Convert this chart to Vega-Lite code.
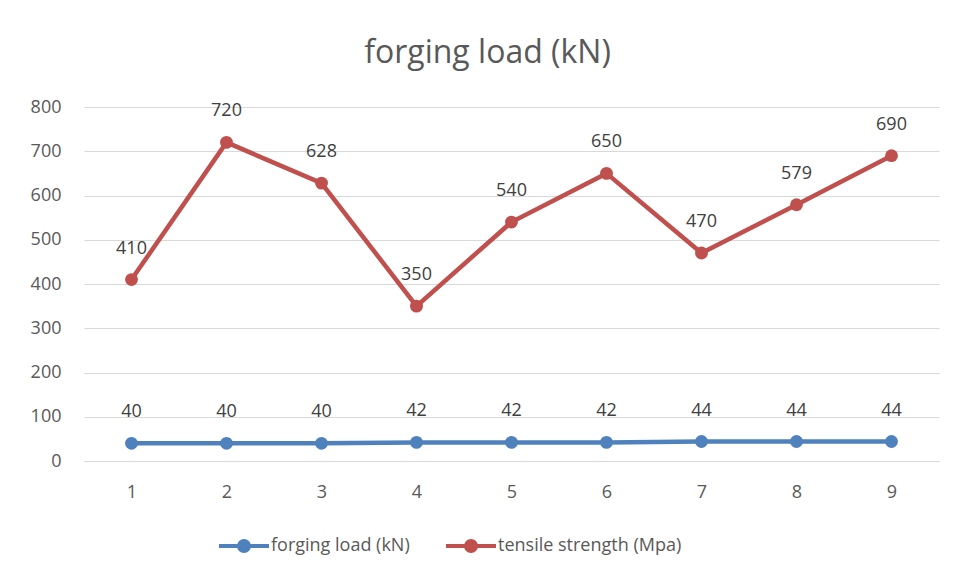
{
  "$schema": "https://vega.github.io/schema/vega-lite/v6.json",
  "width": 855,
  "height": 354,
  "autosize": {"type": "none"},
  "padding": {"left": 84, "top": 107, "right": 17, "bottom": 118},
  "background": "white",
  "title": {
    "text": "forging load (kN)",
    "fontSize": 32,
    "font": "Open Sans",
    "fontWeight": "normal",
    "color": "#595959",
    "offset": 28,
    "dx": -24
  },
  "data": {
    "values": [
      {"x": "1", "series": "forging load (kN)", "value": 40},
      {"x": "2", "series": "forging load (kN)", "value": 40},
      {"x": "3", "series": "forging load (kN)", "value": 40},
      {"x": "4", "series": "forging load (kN)", "value": 42},
      {"x": "5", "series": "forging load (kN)", "value": 42},
      {"x": "6", "series": "forging load (kN)", "value": 42},
      {"x": "7", "series": "forging load (kN)", "value": 44},
      {"x": "8", "series": "forging load (kN)", "value": 44},
      {"x": "9", "series": "forging load (kN)", "value": 44},
      {"x": "1", "series": "tensile strength (Mpa)", "value": 410},
      {"x": "2", "series": "tensile strength (Mpa)", "value": 720},
      {"x": "3", "series": "tensile strength (Mpa)", "value": 628},
      {"x": "4", "series": "tensile strength (Mpa)", "value": 350},
      {"x": "5", "series": "tensile strength (Mpa)", "value": 540},
      {"x": "6", "series": "tensile strength (Mpa)", "value": 650},
      {"x": "7", "series": "tensile strength (Mpa)", "value": 470},
      {"x": "8", "series": "tensile strength (Mpa)", "value": 579},
      {"x": "9", "series": "tensile strength (Mpa)", "value": 690}
    ]
  },
  "encoding": {
    "x": {
      "field": "x",
      "type": "ordinal",
      "sort": null,
      "scale": {"type": "point", "padding": 0.5},
      "axis": {
        "title": null,
        "labelAngle": 0,
        "labelFont": "Open Sans",
        "labelFontSize": 18,
        "labelColor": "#595959",
        "labelPadding": 22,
        "ticks": false,
        "domain": false,
        "grid": false
      }
    },
    "y": {
      "field": "value",
      "type": "quantitative",
      "scale": {"domain": [0, 800], "nice": false},
      "axis": {
        "title": null,
        "values": [0, 100, 200, 300, 400, 500, 600, 700, 800],
        "labelFont": "Open Sans",
        "labelFontSize": 18,
        "labelColor": "#595959",
        "labelPadding": 23,
        "ticks": false,
        "domain": false,
        "grid": true,
        "gridColor": "#d9d9d9",
        "gridWidth": 1
      }
    },
    "color": {
      "field": "series",
      "type": "nominal",
      "scale": {
        "domain": ["forging load (kN)", "tensile strength (Mpa)"],
        "range": ["#4f81bd", "#c0504d"]
      },
      "legend": {
        "title": null,
        "orient": "none",
        "direction": "horizontal",
        "legendX": 151,
        "legendY": 430,
        "padding": 0,
        "symbolType": "M -5 0 L 5 0 M 1 0 A 1 1 0 1 1 -1 0 A 1 1 0 1 1 1 0",
        "symbolSize": 100,
        "symbolStrokeWidth": 4,
        "symbolOpacity": 1,
        "labelFont": "Open Sans",
        "labelFontSize": 18,
        "labelColor": "#595959",
        "labelOffset": 18,
        "labelLimit": 400,
        "columnPadding": 28
      }
    }
  },
  "layer": [
    {
      "mark": {
        "type": "line",
        "strokeWidth": 4.5,
        "point": {"filled": true, "size": 165, "opacity": 1}
      }
    },
    {
      "mark": {
        "type": "text",
        "dy": -31,
        "font": "Open Sans",
        "fontSize": 18,
        "color": "#404040"
      },
      "encoding": {
        "text": {"field": "value", "type": "quantitative"},
        "color": {"value": "#404040"}
      }
    }
  ],
  "config": {
    "view": {"stroke": null}
  }
}
